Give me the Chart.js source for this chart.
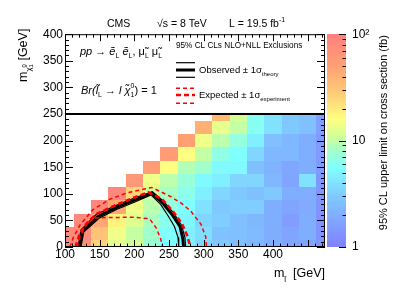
<!DOCTYPE html>
<html>
<head>
<meta charset="utf-8">
<script src="https://cdn.jsdelivr.net/npm/chart.js@4.4.1/dist/chart.umd.min.js"></script>
<style>
  html, body { margin: 0; padding: 0; background: #fff; }
</style>
</head>
<body>
<canvas id="limitChart" width="407" height="294"></canvas>
<script>
// grid of the scan (GeV)
const sleptonMass = [100, 125, 150, 175, 200, 225, 250, 275, 300, 325, 350, 375, 400, 425, 450, 475];
const neutralinoMass = [0, 25, 50, 75, 100, 125, 150, 175, 200, 225, 250];

// 95% CL upper limit (fb), one list per slepton mass, from m(chi) = 0 upwards
const upperLimit = [
    [80, 80],
    [75, 80, 85],
    [26, 32, 45, 85],
    [13, 14, 18, 45, 85],
    [11, 10, 12, 14, 25, 60],
    [7.5, 8, 8.5, 9.5, 10.5, 14, 55],
    [5.5, 5.5, 6.2, 7, 8.3, 9.5, 16, 55],
    [4.6, 4.6, 5, 5.5, 6.3, 7.2, 9, 16, 50],
    [3.5, 3.8, 3.5, 4, 4.6, 5.2, 8, 10, 14, 40],
    [3, 2.7, 3.2, 3, 3.5, 4.6, 5.2, 6.5, 9.5, 13, 35],
    [2.6, 2.6, 2.6, 3.2, 3, 3.5, 5.2, 5.5, 7, 10, 11],
    [2.3, 2.4, 2.3, 3.2, 2.6, 3.5, 2.6, 3.5, 4.6, 6, 6],
    [2, 2, 2, 2, 3, 2.3, 2.1, 2.3, 2.6, 4, 4],
    [1.75, 1.75, 1.55, 1.75, 2, 1.75, 1.8, 2.3, 2.3, 3, 3],
    [1.75, 2, 2, 1.9, 2, 4, 2, 2, 2, 2.6, 2.6],
    [1.4, 1.35, 1.3, 1.35, 1.4, 1.4, 1.5, 1.5, 1.5, 1.6, 1.6]
];

// exclusion contours [m(slepton), m(chi)]
const observed = [[121, 0], [125, 30], [147, 57], [175, 75], [200, 88], [225, 101], [240, 84], [255, 60], [266, 38], [270, 15], [271, 0]];
const observedUp = [[119, 0], [123, 32], [145, 61], [175, 79], [200, 92], [226, 104], [242, 86], [257, 63], [268, 41], [273, 18], [274, 0]];
const observedDown = [[123, 0], [127, 28], [149, 54], [175, 71], [200, 84], [224, 98], [238, 80], [250, 56], [258, 38], [263, 18], [264, 0]];
const expected = [[115, 0], [120, 20], [128, 40], [145, 62], [175, 80], [200, 93], [220, 103], [240, 90], [257, 65], [269, 43], [276, 22], [281, 0]];
const expectedUp = [[107, 0], [112, 18], [122, 42], [140, 70], [165, 90], [190, 102], [225, 112], [252, 95], [268, 82], [281, 68], [296, 43], [303, 19], [304, 0]];
const expectedDown = [[118, 0], [122, 20], [132, 45], [145, 55], [200, 56], [222, 53], [232, 35], [238, 15], [241, 0]];

const FONT = '"Liberation Sans", Arial, Helvetica, sans-serif';

const paletteStops = [
    [0.00, 128, 128, 255],
    [0.12, 128, 165, 255],
    [0.25, 128, 205, 255],
    [0.37, 128, 255, 255],
    [0.45, 160, 255, 205],
    [0.52, 210, 255, 150],
    [0.60, 255, 255, 128],
    [0.72, 255, 205, 120],
    [0.85, 255, 160, 115],
    [1.00, 255, 128, 128]
];

function palette(t) {
    t = Math.max(0, Math.min(1, t));
    for (let k = 1; k < paletteStops.length; k++) {
        const [t1, r1, g1, b1] = paletteStops[k];
        const [t0, r0, g0, b0] = paletteStops[k - 1];
        if (t <= t1) {
            const f = (t - t0) / (t1 - t0);
            return `rgb(${Math.round(r0 + (r1 - r0) * f)},${Math.round(g0 + (g1 - g0) * f)},${Math.round(b0 + (b1 - b0) * f)})`;
        }
    }
    return 'rgb(255,128,128)';
}

// draws text made of pieces: {t, s (size), dy, it (italic), keep (no advance)}
function rich(ctx, parts, x, y, align) {
    let total = 0;
    parts.forEach(p => {
        ctx.font = (p.it ? 'italic ' : '') + p.s + 'px ' + FONT;
        p.w = ctx.measureText(p.t).width;
        if (!p.keep) total += p.w;
    });
    let cx = align === 'right' ? x - total : x;
    ctx.textAlign = 'left';
    ctx.textBaseline = 'alphabetic';
    parts.forEach(p => {
        ctx.font = (p.it ? 'italic ' : '') + p.s + 'px ' + FONT;
        ctx.fillText(p.t, cx, y + (p.dy || 0));
        if (!p.keep) cx += p.w;
    });
}

function toPoints(list) {
    return list.map(([x, y]) => ({x, y}));
}

function contour(list, color, width, dash) {
    return {
        data: toPoints(list),
        showLine: true,
        borderColor: color,
        borderWidth: width,
        borderDash: dash,
        pointRadius: 0,
        fill: false,
        tension: 0
    };
}

const heatmapPlugin = {
    id: 'heatmap',
    beforeDatasetsDraw(chart) {
        const {ctx, chartArea: a, scales: {x, y}} = chart;
        ctx.save();
        ctx.beginPath();
        ctx.rect(a.left, a.top, a.right - a.left, a.bottom - a.top);
        ctx.clip();
        sleptonMass.forEach((m, i) => {
            upperLimit[i].forEach((z, j) => {
                const n = neutralinoMass[j];
                const x0 = Math.round(x.getPixelForValue(m - 12.5));
                const x1 = Math.round(x.getPixelForValue(m + 12.5));
                const y0 = Math.round(y.getPixelForValue(n + 12.5));
                const y1 = Math.round(y.getPixelForValue(n - 12.5));
                ctx.fillStyle = palette(Math.log10(z) / 2);
                ctx.fillRect(x0, y0, x1 - x0, y1 - y0);
            });
        });
        // white legend band
        const yb = Math.round(y.getPixelForValue(250));
        ctx.fillStyle = '#fff';
        ctx.fillRect(a.left, a.top, a.right - a.left, yb - a.top);
        ctx.restore();
    }
};

const framePlugin = {
    id: 'frame',
    afterDraw(chart) {
        const {ctx, chartArea: a, scales: {x, y, z}} = chart;
        ctx.save();
        ctx.strokeStyle = '#000';
        ctx.fillStyle = '#000';

        // legend band border
        const yb = Math.round(y.getPixelForValue(250));
        ctx.lineWidth = 2;
        ctx.beginPath();
        ctx.moveTo(a.left, yb);
        ctx.lineTo(a.right, yb);
        ctx.stroke();

        // frame
        ctx.lineWidth = 1;
        ctx.strokeRect(a.left + 0.5, a.top + 0.5, a.right - a.left - 1, a.bottom - a.top - 1);

        // inward ticks
        ctx.beginPath();
        for (let v = 100; v <= 475; v += 10) {
            const px = Math.round(x.getPixelForValue(v)) + 0.5;
            const len = v % 50 === 0 ? 7 : 3.5;
            ctx.moveTo(px, a.bottom);
            ctx.lineTo(px, a.bottom - len);
            ctx.moveTo(px, a.top);
            ctx.lineTo(px, a.top + len);
        }
        for (let v = 0; v <= 400; v += 10) {
            const py = Math.round(y.getPixelForValue(v)) + 0.5;
            const len = v % 50 === 0 ? 8 : 4;
            ctx.moveTo(a.left, py);
            ctx.lineTo(a.left + len, py);
            ctx.moveTo(a.right, py);
            ctx.lineTo(a.right - len, py);
        }
        ctx.stroke();

        // colour bar
        const cbL = z.left + 2, cbR = z.left + 21;
        const top = Math.round(z.getPixelForValue(100));
        const bot = Math.round(z.getPixelForValue(1));
        for (let py = top; py < bot; py++) {
            const val = z.getValueForPixel(py + 0.5);
            ctx.fillStyle = palette(Math.log10(val) / 2);
            ctx.fillRect(cbL, py, cbR - cbL, 1);
        }
        ctx.beginPath();
        [1, 2, 3, 4, 5, 6, 7, 8, 9, 10, 20, 30, 40, 50, 60, 70, 80, 90, 100].forEach(v => {
            const py = Math.round(z.getPixelForValue(v)) + 0.5;
            const len = (v === 1 || v === 10 || v === 100) ? 7 : 3.5;
            ctx.moveTo(cbR, py);
            ctx.lineTo(cbR - len, py);
        });
        ctx.stroke();
        ctx.fillStyle = '#000';

        // colour bar title
        ctx.save();
        ctx.translate(387, a.top);
        ctx.rotate(-Math.PI / 2);
        ctx.font = '11px ' + FONT;
        ctx.textAlign = 'right';
        ctx.textBaseline = 'alphabetic';
        ctx.fillText('95% CL upper limit on cross section (fb)', -1, 0);
        ctx.restore();

        // y title
        ctx.save();
        ctx.translate(27, 82);
        ctx.rotate(-Math.PI / 2);
        rich(ctx, [
            {t: 'm', s: 12.5},
            {t: 'χ\u0303', s: 8, dy: 4},
            {t: '0', s: 6, dy: -1, keep: true},
            {t: '1', s: 6, dy: 6},
            {t: ' [GeV]', s: 12.5}
        ], 0, 0);
        ctx.restore();

        // x title
        rich(ctx, [
            {t: 'm', s: 12.5},
            {t: 'l\u0303', s: 8, dy: 5},
            {t: '  [GeV]', s: 12.5}
        ], a.right, 277, 'right');

        // header
        ctx.font = '10.5px ' + FONT;
        ctx.textAlign = 'left';
        ctx.fillText('CMS', 107, 27);
        ctx.fillText('√s = 8 TeV', 157, 27);
        rich(ctx, [
            {t: 'L = 19.5 fb', s: 10.5},
            {t: '-1', s: 7, dy: -5}
        ], 229, 27);

        // legend band content
        rich(ctx, [
            {t: 'pp → ', s: 11, it: true},
            {t: 'e\u0303', s: 11, it: true},
            {t: 'L', s: 7, dy: 3},
            {t: ' e\u0303', s: 11, it: true},
            {t: 'L', s: 7, dy: 3},
            {t: ', μ\u0303', s: 11},
            {t: 'L', s: 7, dy: 3},
            {t: ' μ\u0303', s: 11},
            {t: 'L', s: 7, dy: 3}
        ], 80, 55);
        rich(ctx, [
            {t: 'Br(', s: 11, it: true},
            {t: 'l\u0303', s: 11, it: true},
            {t: 'L', s: 7, dy: 3},
            {t: ' → ', s: 11},
            {t: 'l χ\u0303', s: 11, it: true},
            {t: '0', s: 7, dy: -6, keep: true},
            {t: '1', s: 7, dy: 3},
            {t: ') = 1', s: 11}
        ], 81, 94);

        ctx.font = '8.2px ' + FONT;
        ctx.fillText('95% CL CLs NLO+NLL Exclusions', 176, 48);

        const lx0 = 176, lx1 = 195;
        [[62.7, 1.2], [70, 3], [77.3, 1.2]].forEach(([ly, w]) => {
            ctx.lineWidth = w;
            ctx.setLineDash([]);
            ctx.strokeStyle = '#000';
            ctx.beginPath();
            ctx.moveTo(lx0, ly);
            ctx.lineTo(lx1, ly);
            ctx.stroke();
        });
        [[88.3, 1.5, [4, 3]], [95, 2.5, [5, 3]], [103.3, 1.5, [4, 3]]].forEach(([ly, w, d]) => {
            ctx.lineWidth = w;
            ctx.setLineDash(d);
            ctx.strokeStyle = '#ff0000';
            ctx.beginPath();
            ctx.moveTo(lx0, ly);
            ctx.lineTo(lx1, ly);
            ctx.stroke();
        });
        ctx.setLineDash([]);
        ctx.fillStyle = '#000';
        rich(ctx, [
            {t: 'Observed ± 1σ', s: 9.5},
            {t: 'theory', s: 6, dy: 3}
        ], 199, 73);
        rich(ctx, [
            {t: 'Expected ± 1σ', s: 9.5},
            {t: 'experiment', s: 6, dy: 3}
        ], 199, 98);

        ctx.restore();
    }
};

new Chart(document.getElementById('limitChart'), {
    type: 'scatter',
    data: {
        datasets: [
            contour(expectedDown, '#ff0000', 1.5, [4, 3]),
            contour(expectedUp, '#ff0000', 1.5, [4, 3]),
            contour(expected, '#ff0000', 2.5, [5, 3]),
            contour(observedDown, '#000000', 1.2, []),
            contour(observedUp, '#000000', 1.2, []),
            contour(observed, '#000000', 3, [])
        ]
    },
    options: {
        responsive: false,
        animation: false,
        layout: {
            padding: {top: 29, left: 0, right: 0, bottom: 0}
        },
        plugins: {
            legend: {display: false},
            tooltip: {enabled: false}
        },
        scales: {
            x: {
                type: 'linear',
                min: 100,
                max: 475,
                grid: {display: false, drawTicks: false},
                border: {display: false},
                ticks: {
                    stepSize: 50,
                    autoSkip: false,
                    maxRotation: 0,
                    padding: 0,
                    color: '#000',
                    font: {size: 12, family: FONT},
                    callback: v => v % 50 === 0 ? v : ''
                },
                afterFit: s => { s.height = 47; }
            },
            y: {
                type: 'linear',
                min: 0,
                max: 400,
                grid: {display: false, drawTicks: false},
                border: {display: false},
                ticks: {
                    stepSize: 50,
                    autoSkip: false,
                    padding: 2,
                    color: '#000',
                    font: {size: 12, family: FONT}
                },
                afterFit: s => { s.width = 65; }
            },
            z: {
                type: 'logarithmic',
                position: 'right',
                min: 1,
                max: 100,
                grid: {display: false, drawTicks: false},
                border: {display: false},
                ticks: {
                    autoSkip: false,
                    padding: 27,
                    color: '#000',
                    font: {size: 12, family: FONT},
                    callback: v => v === 1 ? '1' : v === 10 ? '10' : v === 100 ? '10²' : null
                },
                afterFit: s => { s.width = 82; }
            }
        }
    },
    plugins: [heatmapPlugin, framePlugin]
});
</script>
</body>
</html>
